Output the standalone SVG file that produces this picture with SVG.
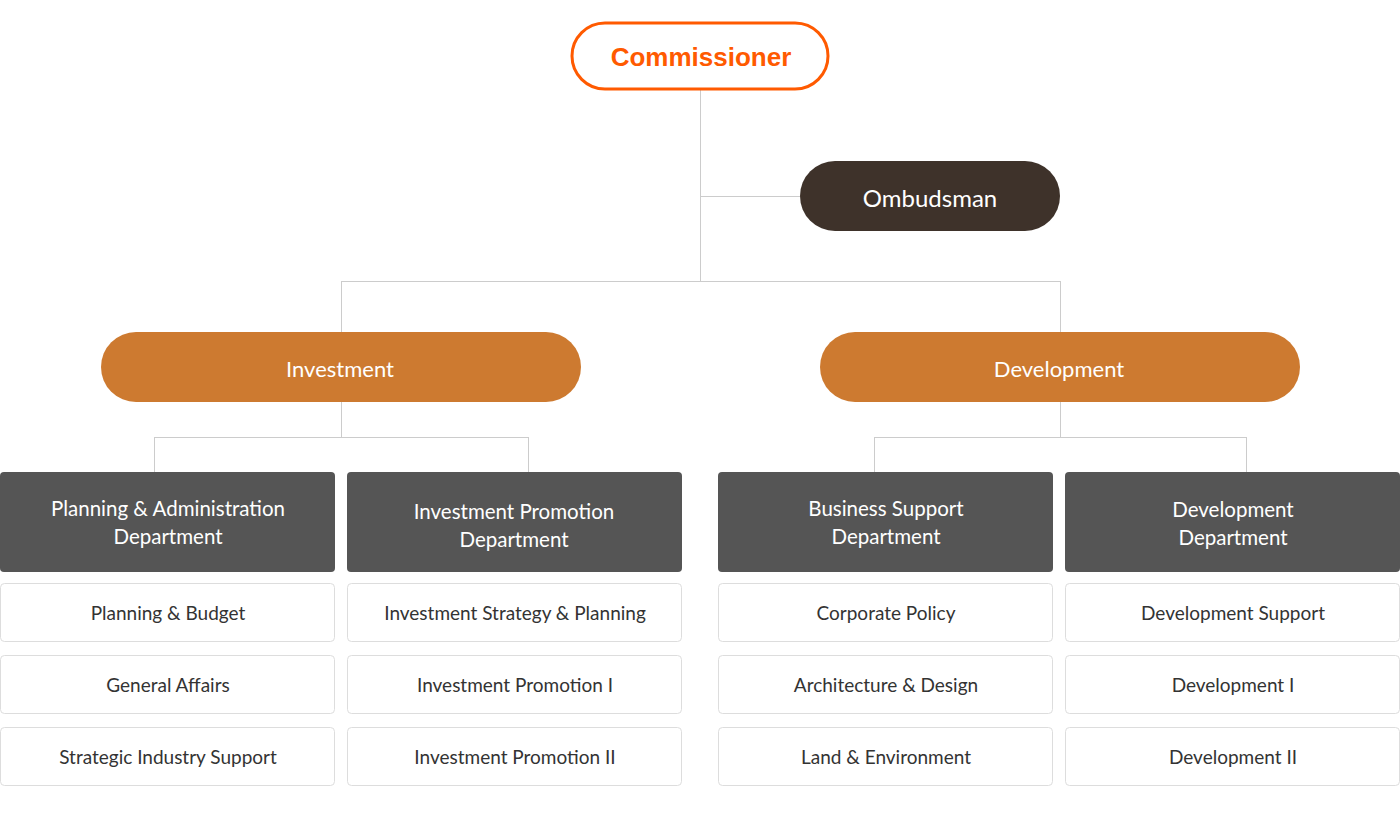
<svg xmlns="http://www.w3.org/2000/svg" width="1400" height="826" viewBox="0 0 1400 826">
<style>
text{font-family:"Lato","Noto Sans","Liberation Sans",sans-serif;text-anchor:middle;dominant-baseline:central}
.ln{stroke:#cccccc;stroke-width:1;fill:none}
.pill{fill:#cd7a30}
.pt{fill:#fff;font-size:22px}
.dept{fill:#555555}
.dt{fill:#fff;font-size:20.5px}
.sub{fill:#fff;stroke:#dddddd;stroke-width:1}
.st{fill:#333;font-size:19px}
</style>
<rect width="1400" height="826" fill="#fff"/>
<g id="connectors">
<path class="ln" d="M700.5 90V281M700.5 196.5H800M341.5 281.5H1060.5M341.5 281V332M1060.5 281V332"/>
<path class="ln" d="M341.5 402V437.5M154.5 437.5H528.5M154.5 437V472M528.5 437V472"/>
<path class="ln" d="M1060.5 402V437.5M874.5 437.5H1246.5M874.5 437V472M1246.5 437V472"/>
</g>
<g id="commissioner">
<rect x="572" y="23" width="256" height="66" rx="33" fill="#fff" stroke="#ff5a00" stroke-width="3"/>
<text x="701" y="57" style="fill:#ff5a00;font-size:26px;font-weight:bold;font-family:'Liberation Sans',Arial,sans-serif">Commissioner</text>
</g>
<g id="ombudsman">
<rect x="800" y="161" width="260" height="70" rx="35" fill="#3e322a"/>
<text x="930" y="197" class="pt" style="font-size:24px">Ombudsman</text>
</g>
<g id="investment">
<rect x="101" y="332" width="480" height="70" rx="35" class="pill"/>
<text x="340" y="368" class="pt">Investment</text>
</g>
<g id="development">
<rect x="820" y="332" width="480" height="70" rx="35" class="pill"/>
<text x="1059" y="368" class="pt">Development</text>
</g>
<g id="dept-planning">
<rect x="0" y="472" width="335" height="100" rx="4" class="dept"/>
<text x="168" y="508" class="dt">Planning &amp; Administration</text>
<text x="168" y="536" class="dt">Department</text>
</g>
<g id="dept-invpromo">
<rect x="347" y="472" width="335" height="100" rx="4" class="dept"/>
<text x="514" y="511" class="dt">Investment Promotion</text>
<text x="514" y="539" class="dt">Department</text>
</g>
<g id="dept-business">
<rect x="718" y="472" width="335" height="100" rx="4" class="dept"/>
<text x="886" y="508" class="dt">Business Support</text>
<text x="886" y="536" class="dt">Department</text>
</g>
<g id="dept-development">
<rect x="1065" y="472" width="335" height="100" rx="4" class="dept"/>
<text x="1233" y="509" class="dt">Development</text>
<text x="1233" y="537" class="dt">Department</text>
</g>
<g id="sub-planning-budget"><rect x="0.5" y="583.5" width="334" height="58" rx="4" class="sub"/><text x="168" y="612" class="st">Planning &amp; Budget</text></g>
<g id="sub-general-affairs"><rect x="0.5" y="655.5" width="334" height="58" rx="4" class="sub"/><text x="168" y="684" class="st">General Affairs</text></g>
<g id="sub-strategic"><rect x="0.5" y="727.5" width="334" height="58" rx="4" class="sub"/><text x="168" y="756" class="st">Strategic Industry Support</text></g>
<g id="sub-inv-strategy"><rect x="347.5" y="583.5" width="334" height="58" rx="4" class="sub"/><text x="515" y="612" class="st">Investment Strategy &amp; Planning</text></g>
<g id="sub-inv-promo1"><rect x="347.5" y="655.5" width="334" height="58" rx="4" class="sub"/><text x="515" y="684" class="st">Investment Promotion I</text></g>
<g id="sub-inv-promo2"><rect x="347.5" y="727.5" width="334" height="58" rx="4" class="sub"/><text x="515" y="756" class="st">Investment Promotion II</text></g>
<g id="sub-corporate"><rect x="718.5" y="583.5" width="334" height="58" rx="4" class="sub"/><text x="886" y="612" class="st">Corporate Policy</text></g>
<g id="sub-architecture"><rect x="718.5" y="655.5" width="334" height="58" rx="4" class="sub"/><text x="886" y="684" class="st">Architecture &amp; Design</text></g>
<g id="sub-land"><rect x="718.5" y="727.5" width="334" height="58" rx="4" class="sub"/><text x="886" y="756" class="st">Land &amp; Environment</text></g>
<g id="sub-dev-support"><rect x="1065.5" y="583.5" width="334" height="58" rx="4" class="sub"/><text x="1233" y="612" class="st">Development Support</text></g>
<g id="sub-dev1"><rect x="1065.5" y="655.5" width="334" height="58" rx="4" class="sub"/><text x="1233" y="684" class="st">Development I</text></g>
<g id="sub-dev2"><rect x="1065.5" y="727.5" width="334" height="58" rx="4" class="sub"/><text x="1233" y="756" class="st">Development II</text></g>
</svg>
